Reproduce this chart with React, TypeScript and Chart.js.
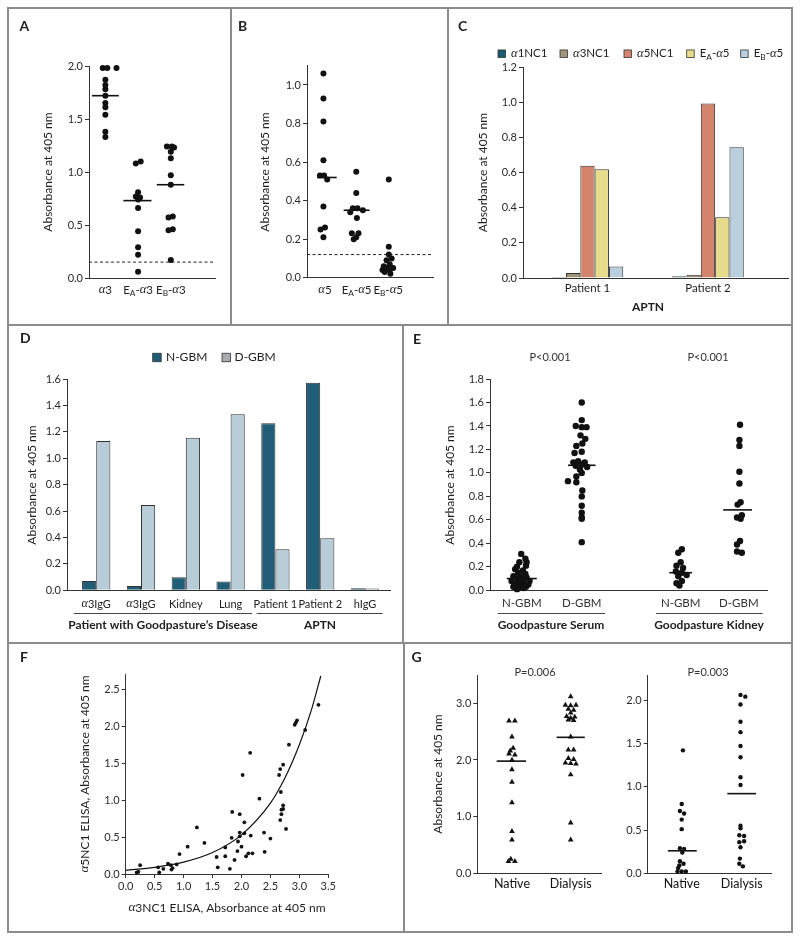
import React, { useEffect, useRef } from 'react';
import { Chart, registerables } from 'chart.js';

Chart.register(...registerables);

const SANS = 'Lato, "Open Sans", "DejaVu Sans", sans-serif';
const SERIF = '"Liberation Serif", "DejaVu Serif", serif';
const INK = '#1e1e1e';
const AXIS = '#333333';
const FRAME = '#8c8c8c';
const DOT = '#111111';

// ---------------- Panel A ----------------
const aLabels = ['α3', 'E_A-α3', 'E_B-α3'];
const aAlpha3 = [1.98, 1.98, 1.98, 1.87, 1.82, 1.78, 1.72, 1.65, 1.61, 1.54, 1.38, 1.33];
const aAlpha3Spread = [-0.08, 0.06, 0.34, 0, 0, 0, 0, 0, 0, 0, 0, 0];
const aEA3 = [1.1, 1.08, 0.81, 0.77, 0.76, 0.74, 0.66, 0.44, 0.29, 0.22, 0.06];
const aEA3Spread = [0.08, -0.07, 0, -0.07, 0.06, 0, 0, 0, 0, 0, 0];
const aEB3 = [1.24, 1.24, 1.23, 1.19, 1.13, 0.97, 0.88, 0.58, 0.57, 0.46, 0.45, 0.17];
const aEB3Spread = [-0.12, 0.03, 0.1, 0, 0, 0, 0, 0.06, -0.07, 0.06, -0.07, 0];
const aMedians = [1.72, 0.73, 0.88];
const aCutoff = 0.15;

// ---------------- Panel B ----------------
const bLabels = ['α5', 'E_A-α5', 'E_B-α5'];
const bAlpha5 = [1.06, 0.93, 0.81, 0.61, 0.53, 0.53, 0.51, 0.37, 0.26, 0.25, 0.21];
const bAlpha5Spread = [-0.05, -0.05, -0.05, -0.05, -0.16, -0.03, 0.07, -0.05, 0, -0.14, -0.05];
const bEA5 = [0.55, 0.44, 0.36, 0.36, 0.35, 0.34, 0.31, 0.23, 0.23, 0.21, 0.2];
const bEA5Spread = [-0.01, -0.01, -0.12, 0.03, 0.2, -0.2, 0.01, -0.15, 0.06, -0.01, -0.09];
const bEB5 = [0.51, 0.16, 0.12, 0.1, 0.09, 0.07, 0.06, 0.05, 0.05, 0.04, 0.04, 0.03, 0.02];
const bEB5Spread = [0.02, 0.02, 0.02, 0.11, -0.05, 0.05, -0.14, 0.16, -0.03, -0.18, 0.05, -0.11, 0.07];
const bMedians = [0.52, 0.35];
const bCutoff = 0.12;

// ---------------- Panel C ----------------
const cGroups = ['Patient 1', 'Patient 2'];
const cSeries = ['α1NC1', 'α3NC1', 'α5NC1', 'E_A-α5', 'E_B-α5'];
const cAlpha1 = [0.006, 0.01];
const cAlpha3 = [0.028, 0.019];
const cAlpha5 = [0.639, 0.992];
const cEA5 = [0.618, 0.346];
const cEB5 = [0.066, 0.743];
const cColors = ['#1d5b70', '#9d9679', '#d4846c', '#e7dc8b', '#b9cfdd'];

// ---------------- Panel D ----------------
const dLabels = ['α3IgG', 'α3IgG', 'Kidney', 'Lung', 'Patient 1', 'Patient 2', 'hIgG'];
const dSeries = ['N-GBM', 'D-GBM'];
const dNGBM = [0.071, 0.033, 0.098, 0.066, 1.264, 1.572, 0.015];
const dDGBM = [1.131, 0.646, 1.156, 1.333, 0.31, 0.394, 0.013];
const dColors = ['#1f5e76', '#b8ccd8'];
const dLegendColors = ['#1f5e76', '#a9abad'];

// ---------------- Panel E ----------------
const eLabels = ['N-GBM', 'D-GBM', 'N-GBM', 'D-GBM'];
const eSerumN = [0.31, 0.27, 0.24, 0.24, 0.21, 0.2, 0.18, 0.17, 0.15, 0.14, 0.12, 0.12, 0.11, 0.1, 0.09, 0.08, 0.08, 0.07, 0.06, 0.05, 0.05, 0.04, 0.04, 0.03, 0.03, 0.02, 0.02, 0.01];
const eSerumNSpread = [-0.01, 0.06, -0.04, 0.08, 0.07, -0.08, -0.11, 0.02, -0.06, 0.06, -0.14, -0.02, 0.08, -0.07, 0.03, -0.17, 0.13, -0.03, -0.11, 0.04, 0.11, -0.08, 0, -0.14, 0.07, -0.04, 0.03, -0.08];
const eSerumD = [1.6, 1.45, 1.4, 1.39, 1.39, 1.32, 1.29, 1.25, 1.23, 1.18, 1.17, 1.1, 1.09, 1.09, 1.07, 1.06, 1.05, 1.03, 1.0, 0.97, 0.93, 0.92, 0.85, 0.8, 0.72, 0.66, 0.62, 0.61, 0.41];
const eSerumDSpread = [0, 0, -0.1, 0, 0.08, -0.02, 0.06, 0.01, -0.09, 0, -0.12, -0.06, -0.14, 0.05, 0, -0.1, 0.09, -0.03, 0, -0.09, -0.23, -0.09, 0.01, 0, 0, 0, 0, 0, 0];
const eKidneyN = [0.35, 0.32, 0.24, 0.21, 0.19, 0.16, 0.15, 0.13, 0.12, 0.08, 0.06, 0.04];
const eKidneyNSpread = [0.02, -0.04, 0, -0.07, 0.04, -0.08, 0.02, 0.1, -0.04, 0.02, -0.07, -0.02];
const eKidneyD = [1.41, 1.28, 1.23, 1.01, 0.91, 0.75, 0.73, 0.64, 0.62, 0.61, 0.42, 0.39, 0.33, 0.32];
const eKidneyDSpread = [0.02, 0.01, 0.01, 0.01, 0.01, 0.03, -0.02, 0.05, -0.03, 0.03, 0.02, -0.03, -0.03, 0.05];
const eMedians = [0.1, 1.065, 0.15, 0.685];
const ePValues = ['P<0.001', 'P<0.001'];
const eGroupLabels = ['Goodpasture Serum', 'Goodpasture Kidney'];

// ---------------- Panel F ----------------
const fX = [0.19, 0.22, 0.25, 0.56, 0.58, 0.65, 0.73, 0.78, 0.79, 0.81, 0.88, 0.93, 1.07, 1.23, 1.36, 1.57, 1.59, 1.72, 1.72, 1.8, 1.84, 1.83, 1.88, 1.93, 1.94, 1.97, 1.97, 1.97, 2.0, 2.02, 2.05, 2.05, 2.08, 2.12, 2.15, 2.16, 2.19, 2.31, 2.39, 2.4, 2.5, 2.65, 2.67, 2.67, 2.68, 2.69, 2.69, 2.72, 2.72, 2.72, 2.77, 2.82, 2.92, 2.94, 2.96, 3.1, 3.33];
const fY = [0.02, 0.03, 0.12, 0.09, 0.02, 0.07, 0.14, 0.12, 0.06, 0.08, 0.13, 0.27, 0.37, 0.63, 0.42, 0.23, 0.09, 0.24, 0.36, 0.07, 0.84, 0.49, 0.19, 0.31, 0.44, 0.81, 0.56, 0.51, 0.37, 1.34, 0.7, 0.55, 0.24, 0.28, 1.64, 0.52, 0.28, 1.02, 0.56, 0.3, 0.48, 1.34, 1.42, 0.73, 1.11, 0.81, 0.87, 1.48, 0.93, 0.88, 0.61, 1.75, 2.02, 2.05, 2.08, 1.95, 2.29];
const fCurveX = [0, 0.5, 1.0, 1.5, 2.0, 2.5, 2.75, 3.0, 3.2, 3.37];
const fCurveY = [0.05, 0.09, 0.16, 0.29, 0.53, 0.96, 1.3, 1.75, 2.2, 2.68];

// ---------------- Panel G ----------------
const gLabels = ['Native', 'Dialysis'];
const gSerumNative = [2.69, 2.69, 2.41, 2.21, 2.16, 2.11, 2.09, 2.0, 1.83, 1.61, 1.25, 0.74, 0.59, 0.25, 0.21, 0.21];
const gSerumNativeSpread = [-0.05, 0.05, 0, 0.02, -0.03, -0.05, 0.05, 0, 0, 0, 0, 0, 0, -0.02, -0.06, 0.05];
const gSerumDialysis = [3.12, 2.97, 2.96, 2.97, 2.9, 2.88, 2.83, 2.77, 2.76, 2.74, 2.71, 2.7, 2.41, 2.18, 2.18, 2.03, 2.01, 1.95, 1.94, 1.93, 1.74, 0.89, 0.59];
const gSerumDialysisSpread = [0, -0.09, 0, 0.09, -0.04, 0.05, 0, -0.07, 0.07, 0, -0.04, 0.05, 0, -0.04, 0.05, -0.04, 0.05, -0.09, 0, 0.09, 0, 0, 0];
const gKidneyNative = [1.42, 0.8, 0.72, 0.69, 0.62, 0.51, 0.29, 0.28, 0.24, 0.14, 0.11, 0.09, 0.06, 0.02, 0.02, 0.02];
const gKidneyNativeSpread = [0.02, 0, -0.03, 0.04, 0, 0, -0.03, 0.04, 0.01, -0.03, 0.03, -0.04, -0.06, -0.07, 0, 0.07];
const gKidneyDialysis = [2.06, 2.04, 1.95, 1.75, 1.63, 1.47, 1.34, 1.11, 1.02, 0.55, 0.52, 0.44, 0.43, 0.37, 0.36, 0.3, 0.17, 0.11, 0.08];
const gKidneyDialysisSpread = [-0.02, 0.06, -0.02, -0.02, -0.02, -0.02, -0.02, -0.02, -0.02, -0.02, -0.02, -0.04, 0.04, 0.04, -0.04, -0.02, -0.03, -0.04, 0.02];
const gSerumMedians = [1.98, 2.4];
const gKidneyMedians = [0.26, 0.92];
const gPValues = ['P=0.006', 'P=0.003'];

// ---------------- helpers ----------------
type Panel = { x: number; y: number; w: number; h: number };
type Area = { l: number; t: number; r: number; b: number };

const TICK_SIZE = 11;
const TITLE_SIZE = 12;
const LETTER_SIZE = 14;

function parseRich(s: string) {
  const out: { t: string; k: string }[] = [];
  for (let i = 0; i < s.length; i++) {
    const c = s[i];
    if (c === '_' && i + 1 < s.length) {
      out.push({ t: s[i + 1], k: 's' });
      i++;
      continue;
    }
    const k = c === 'α' ? 'i' : 'n';
    const last = out[out.length - 1];
    if (last && last.k === 'n' && k === 'n') last.t += c;
    else out.push({ t: c, k });
  }
  return out;
}

function drawRich(ctx: any, s: string, x: number, y: number, o: any) {
  const size = o.size;
  const weight = o.weight || 'normal';
  const fontOf = (k: string) =>
    k === 'i' ? `italic ${size * 1.1}px ${SERIF}` : k === 's' ? `${weight} ${size * 0.72}px ${SANS}` : `${weight} ${size}px ${SANS}`;
  const segs = parseRich(s);
  ctx.save();
  ctx.translate(x, y);
  if (o.rot) ctx.rotate(-Math.PI / 2);
  let total = 0;
  const widths = segs.map((sg) => {
    ctx.font = fontOf(sg.k);
    const w = ctx.measureText(sg.t).width;
    total += w;
    return w;
  });
  let cx = o.align === 'left' ? 0 : -total / 2;
  ctx.textBaseline = 'middle';
  ctx.textAlign = 'left';
  ctx.fillStyle = o.color || INK;
  segs.forEach((sg, i) => {
    ctx.font = fontOf(sg.k);
    ctx.fillText(sg.t, cx, sg.k === 's' ? size * 0.3 : 0);
    cx += widths[i];
  });
  ctx.restore();
}

function decoPlugin(panel: Panel, deco: any) {
  return {
    id: 'deco',
    afterDraw(chart: any) {
      const ctx = chart.ctx;
      ctx.save();
      ctx.translate(-panel.x, -panel.y);
      (deco.rules || []).forEach((r: number[]) => {
        ctx.beginPath();
        ctx.moveTo(r[0], Math.round(r[2]) + 0.5);
        ctx.lineTo(r[1], Math.round(r[2]) + 0.5);
        ctx.lineWidth = 1;
        ctx.strokeStyle = '#444';
        ctx.stroke();
      });
      (deco.swatches || []).forEach((sw: any) => {
        ctx.fillStyle = sw.fill;
        ctx.fillRect(sw.x, sw.y - sw.size / 2, sw.size, sw.size);
        ctx.lineWidth = 0.8;
        ctx.strokeStyle = '#333';
        ctx.strokeRect(sw.x, sw.y - sw.size / 2, sw.size, sw.size);
      });
      (deco.texts || []).forEach((t: any) => drawRich(ctx, t.s, t.x, t.y, t));
      if (deco.cats) {
        const sc = chart.scales.x;
        deco.cats.labels.forEach((lab: string, i: number) =>
          drawRich(ctx, lab, sc.getPixelForValue(deco.cats.pos[i]) + panel.x, deco.cats.y, deco.cats)
        );
      }
      ctx.restore();
    },
  };
}

function frameOf(panel: Panel, area: Area) {
  return {
    yW: area.l - panel.x,
    padTop: area.t - panel.y,
    padRight: panel.x + panel.w - area.r,
    xH: panel.y + panel.h - area.b,
  };
}

function yScale(min: number, max: number, step: number, fr: any) {
  return {
    type: 'linear',
    min,
    max,
    afterFit: (s: any) => {
      s.width = fr.yW;
    },
    border: { display: true, color: AXIS, width: 1 },
    grid: { display: true, drawOnChartArea: false, drawTicks: true, tickLength: 4, color: AXIS, lineWidth: 1 },
    ticks: {
      stepSize: step,
      includeBounds: false,
      padding: 2,
      color: '#2a2a2a',
      font: { family: SANS, size: TICK_SIZE },
      callback: (v: any) => Number(v).toFixed(1),
    },
  };
}

function xHidden(min: number, max: number, fr: any, tickValues?: number[]) {
  return {
    type: 'linear',
    min,
    max,
    offset: false,
    afterFit: (s: any) => {
      s.height = fr.xH;
    },
    afterBuildTicks: (s: any) => {
      if (tickValues) s.ticks = tickValues.map((v) => ({ value: v }));
    },
    border: { display: true, color: AXIS, width: 1 },
    grid: { display: false, offset: false },
    ticks: { display: false },
  };
}

function commonOpts(fr: any, x: any, y: any) {
  return {
    responsive: false,
    maintainAspectRatio: false,
    animation: false,
    devicePixelRatio: 1,
    events: [],
    layout: { padding: { top: fr.padTop, right: fr.padRight, bottom: 0, left: 0 } },
    plugins: { legend: { display: false }, tooltip: { enabled: false }, title: { display: false } },
    scales: { x, y },
  };
}

function dotSets(groups: any[], radius: number, style: string) {
  const ds: any[] = [];
  groups.forEach((g) => {
    ds.push({
      type: 'scatter',
      data: g.values.map((v: number, i: number) => ({ x: g.pos + g.spread[i], y: v })),
      pointRadius: radius,
      pointHoverRadius: radius,
      pointStyle: style,
      backgroundColor: DOT,
      borderColor: DOT,
      borderWidth: 0,
      clip: false,
    });
    if (g.median !== undefined) {
      ds.push({
        type: 'line',
        data: [
          { x: g.pos + g.mShift - g.half, y: g.median },
          { x: g.pos + g.mShift + g.half, y: g.median },
        ],
        borderColor: DOT,
        borderWidth: 1.6,
        pointRadius: 0,
        showLine: true,
        clip: false,
      });
    }
  });
  return ds;
}

function cutoffSet(value: number, xMin: number, xMax: number) {
  return {
    type: 'line',
    data: [
      { x: xMin, y: value },
      { x: xMax, y: value },
    ],
    borderColor: '#222',
    borderWidth: 1,
    borderDash: [3, 2.5],
    pointRadius: 0,
    showLine: true,
  };
}

// ---------------- panels ----------------
const panelA: Panel = { x: 8, y: 8, w: 223, h: 317 };
const areaA: Area = { l: 89, t: 66, r: 215, b: 278 };
function buildA() {
  const fr = frameOf(panelA, areaA);
  const xMin = -0.5;
  const xMax = 3.35;
  const groups = [
    { pos: 0, values: aAlpha3, spread: aAlpha3Spread, median: aMedians[0], mShift: 0, half: 0.41 },
    { pos: 1, values: aEA3, spread: aEA3Spread, median: aMedians[1], mShift: -0.02, half: 0.43 },
    { pos: 2, values: aEB3, spread: aEB3Spread, median: aMedians[2], mShift: -0.01, half: 0.42 },
  ];
  return {
    type: 'scatter',
    data: { datasets: [...dotSets(groups, 3, 'circle'), cutoffSet(aCutoff, xMin, xMax)] },
    options: commonOpts(fr, xHidden(xMin, xMax, fr), yScale(0, 2, 0.5, fr)),
    plugins: [
      decoPlugin(panelA, {
        texts: [
          { s: 'A', x: 19.5, y: 26, size: LETTER_SIZE, weight: 'bold', align: 'left' },
          { s: 'Absorbance at 405 nm', x: 48, y: 172, size: TITLE_SIZE, rot: true },
        ],
        cats: { labels: aLabels, pos: [0, 1, 2], y: 290, size: 11.5 },
      }),
    ],
  };
}

const panelB: Panel = { x: 231, y: 8, w: 217, h: 317 };
const areaB: Area = { l: 307, t: 65.7, r: 433, b: 277.7 };
function buildB() {
  const fr = frameOf(panelB, areaB);
  const xMin = -0.57;
  const xMax = 3.42;
  const groups = [
    { pos: 0, values: bAlpha5, spread: bAlpha5Spread, median: bMedians[0], mShift: 0.06, half: 0.31 },
    { pos: 1, values: bEA5, spread: bEA5Spread, median: bMedians[1], mShift: 0, half: 0.41 },
    { pos: 2, values: bEB5, spread: bEB5Spread },
  ];
  return {
    type: 'scatter',
    data: { datasets: [...dotSets(groups, 3, 'circle'), cutoffSet(bCutoff, xMin, xMax)] },
    options: commonOpts(fr, xHidden(xMin, xMax, fr), yScale(0, 1.1, 0.2, fr)),
    plugins: [
      decoPlugin(panelB, {
        texts: [
          { s: 'B', x: 238, y: 26, size: LETTER_SIZE, weight: 'bold', align: 'left' },
          { s: 'Absorbance at 405 nm', x: 265, y: 172, size: TITLE_SIZE, rot: true },
        ],
        cats: { labels: bLabels, pos: [0, 1, 2], y: 290, size: 11.5 },
      }),
    ],
  };
}

const panelC: Panel = { x: 448, y: 8, w: 344, h: 317 };
const areaC: Area = { l: 523, t: 67, r: 788, b: 278 };
function buildC() {
  const fr = frameOf(panelC, areaC);
  const values = [cAlpha1, cAlpha3, cAlpha5, cEA5, cEB5];
  const swX = [498, 560, 624, 686.7, 740.7];
  const swatches = cSeries.map((_, k) => ({ x: swX[k], y: 53.7, size: 7.5, fill: cColors[k] }));
  const legendTexts = cSeries.map((s, k) => ({ s, x: swX[k] + 13, y: 53.7, size: 11.5, align: 'left' }));
  return {
    type: 'bar',
    data: {
      datasets: cSeries.map((name, k) => ({
        label: name,
        data: values[k].map((v, i) => ({ x: i, y: v })),
        backgroundColor: cColors[k],
        borderColor: '#333',
        borderWidth: 1,
        categoryPercentage: 0.594,
        barPercentage: 1,
      })),
    },
    options: commonOpts(fr, xHidden(-0.535, 1.664, fr, [0, 1]), yScale(0, 1.2, 0.2, fr)),
    plugins: [
      decoPlugin(panelC, {
        swatches,
        texts: [
          { s: 'C', x: 458, y: 26, size: LETTER_SIZE, weight: 'bold', align: 'left' },
          { s: 'Absorbance at 405 nm', x: 483, y: 172.5, size: TITLE_SIZE, rot: true },
          { s: 'APTN', x: 648, y: 307, size: 12, weight: 'bold' },
          ...legendTexts,
        ],
        cats: { labels: cGroups, pos: [0, 1], y: 288.5, size: 11.5 },
      }),
    ],
  };
}

const panelD: Panel = { x: 8, y: 325, w: 395, h: 318 };
const areaD: Area = { l: 67, t: 379, r: 390, b: 590.3 };
function buildD() {
  const fr = frameOf(panelD, areaD);
  const values = [dNGBM, dDGBM];
  const idx = dLabels.map((_, i) => i);
  return {
    type: 'bar',
    data: {
      datasets: dSeries.map((name, k) => ({
        label: name,
        data: values[k].map((v, i) => ({ x: i, y: v })),
        backgroundColor: dColors[k],
        borderColor: '#333',
        borderWidth: 1,
        categoryPercentage: 0.632,
        barPercentage: 1,
      })),
    },
    options: commonOpts(fr, xHidden(-0.652, 6.558, fr, idx), yScale(0, 1.6, 0.2, fr)),
    plugins: [
      decoPlugin(panelD, {
        swatches: [
          { x: 152.7, y: 357.5, size: 8.5, fill: dLegendColors[0] },
          { x: 222, y: 357.5, size: 8.5, fill: dLegendColors[1] },
        ],
        rules: [
          [74, 252, 613],
          [256.7, 382.7, 613],
        ],
        texts: [
          { s: 'D', x: 20, y: 338, size: LETTER_SIZE, weight: 'bold', align: 'left' },
          { s: dSeries[0], x: 166, y: 357.5, size: 12, align: 'left' },
          { s: dSeries[1], x: 234.5, y: 357.5, size: 12, align: 'left' },
          { s: 'Absorbance at 405 nm', x: 32, y: 485, size: TITLE_SIZE, rot: true },
          { s: 'Patient with Goodpasture’s Disease', x: 163, y: 625, size: 12, weight: 'bold' },
          { s: 'APTN', x: 320, y: 625, size: 12, weight: 'bold' },
        ],
        cats: { labels: dLabels, pos: idx, y: 604, size: 11 },
      }),
    ],
  };
}

const panelE: Panel = { x: 403, y: 325, w: 389, h: 318 };
const areaE: Area = { l: 490, t: 379, r: 767, b: 590.3 };
function buildE() {
  const fr = frameOf(panelE, areaE);
  const pos = [0, 1, 2.65, 3.62];
  const groups = [
    { pos: pos[0], values: eSerumN, spread: eSerumNSpread, median: eMedians[0], mShift: 0, half: 0.25 },
    { pos: pos[1], values: eSerumD, spread: eSerumDSpread, median: eMedians[1], mShift: 0, half: 0.23 },
    { pos: pos[2], values: eKidneyN, spread: eKidneyNSpread, median: eMedians[2], mShift: 0, half: 0.19 },
    { pos: pos[3], values: eKidneyD, spread: eKidneyDSpread, median: eMedians[3], mShift: -0.02, half: 0.24 },
  ];
  return {
    type: 'scatter',
    data: { datasets: dotSets(groups, 3.2, 'circle') },
    options: commonOpts(fr, xHidden(-0.53, 4.09, fr), yScale(0, 1.8, 0.2, fr)),
    plugins: [
      decoPlugin(panelE, {
        rules: [
          [497.7, 605, 613],
          [656, 762.7, 613],
        ],
        texts: [
          { s: 'E', x: 413, y: 339, size: LETTER_SIZE, weight: 'bold', align: 'left' },
          { s: ePValues[0], x: 550, y: 357, size: 11, color: '#333' },
          { s: ePValues[1], x: 708, y: 357, size: 11, color: '#333' },
          { s: 'Absorbance at 405 nm', x: 450, y: 485, size: TITLE_SIZE, rot: true },
          { s: eGroupLabels[0], x: 551, y: 625, size: 12, weight: 'bold' },
          { s: eGroupLabels[1], x: 709, y: 625, size: 12, weight: 'bold' },
        ],
        cats: { labels: eLabels, pos, y: 603.5, size: 11.5, color: '#333' },
      }),
    ],
  };
}

const panelF: Panel = { x: 8, y: 643, w: 396, h: 289 };
const areaF: Area = { l: 125.7, t: 674.5, r: 328.3, b: 874 };
function buildF() {
  const fr = frameOf(panelF, areaF);
  const x = {
    type: 'linear',
    min: 0,
    max: 3.5,
    afterFit: (s: any) => {
      s.height = fr.xH;
    },
    border: { display: true, color: AXIS, width: 1 },
    grid: { display: true, drawOnChartArea: false, drawTicks: true, tickLength: 4, color: AXIS },
    ticks: {
      stepSize: 0.5,
      padding: 2,
      color: '#2a2a2a',
      font: { family: SANS, size: TICK_SIZE },
      callback: (v: any) => Number(v).toFixed(1),
    },
  };
  return {
    type: 'scatter',
    data: {
      datasets: [
        {
          type: 'scatter',
          data: fX.map((v, i) => ({ x: v, y: fY[i] })),
          pointRadius: 1.9,
          backgroundColor: DOT,
          borderWidth: 0,
          clip: false,
        },
        {
          type: 'line',
          data: fCurveX.map((v, i) => ({ x: v, y: fCurveY[i] })),
          borderColor: DOT,
          borderWidth: 1.2,
          pointRadius: 0,
          showLine: true,
          cubicInterpolationMode: 'monotone',
        },
      ],
    },
    options: commonOpts(fr, x, yScale(0, 2.7, 0.5, fr)),
    plugins: [
      decoPlugin(panelF, {
        texts: [
          { s: 'F', x: 20, y: 657, size: LETTER_SIZE, weight: 'bold', align: 'left' },
          { s: 'α5NC1 ELISA, Absorbance at 405 nm', x: 85, y: 774, size: TITLE_SIZE, rot: true },
          { s: 'α3NC1 ELISA, Absorbance at 405 nm', x: 227, y: 908, size: TITLE_SIZE },
        ],
      }),
    ],
  };
}

const panelG1: Panel = { x: 404, y: 643, w: 215, h: 289 };
const areaG1: Area = { l: 477.3, t: 675, r: 601.7, b: 873.3 };
function buildG1() {
  const fr = frameOf(panelG1, areaG1);
  const groups = [
    { pos: 0, values: gSerumNative, spread: gSerumNativeSpread, median: gSerumMedians[0], mShift: -0.01, half: 0.25 },
    { pos: 1, values: gSerumDialysis, spread: gSerumDialysisSpread, median: gSerumMedians[1], mShift: 0, half: 0.24 },
  ];
  return {
    type: 'scatter',
    data: { datasets: dotSets(groups, 3.3, 'triangle') },
    options: commonOpts(fr, xHidden(-0.59, 1.528, fr), yScale(0, 3.5, 1, fr)),
    plugins: [
      decoPlugin(panelG1, {
        texts: [
          { s: 'G', x: 411.5, y: 657, size: LETTER_SIZE, weight: 'bold', align: 'left' },
          { s: gPValues[0], x: 535, y: 672, size: 11, color: '#333' },
          { s: 'Absorbance at 405 nm', x: 438, y: 774, size: TITLE_SIZE, rot: true },
        ],
        cats: { labels: gLabels, pos: [0, 1], y: 883.5, size: 12.5, color: '#111' },
      }),
    ],
  };
}

const panelG2: Panel = { x: 612, y: 643, w: 180, h: 289 };
const areaG2: Area = { l: 647.7, t: 675, r: 771.7, b: 873.3 };
function buildG2() {
  const fr = frameOf(panelG2, areaG2);
  const groups = [
    { pos: 0, values: gKidneyNative, spread: gKidneyNativeSpread, median: gKidneyMedians[0], mShift: 0.01, half: 0.24 },
    { pos: 1, values: gKidneyDialysis, spread: gKidneyDialysisSpread, median: gKidneyMedians[1], mShift: 0, half: 0.24 },
  ];
  return {
    type: 'scatter',
    data: { datasets: dotSets(groups, 2.2, 'circle') },
    options: commonOpts(fr, xHidden(-0.567, 1.5, fr), yScale(0, 2.29, 0.5, fr)),
    plugins: [
      decoPlugin(panelG2, {
        texts: [{ s: gPValues[1], x: 708, y: 672, size: 11, color: '#333' }],
        cats: { labels: gLabels, pos: [0, 1], y: 883.5, size: 12.5, color: '#111' },
      }),
    ],
  };
}

function Plot({ panel, build }: { panel: Panel; build: () => any }) {
  const ref = useRef<HTMLCanvasElement | null>(null);
  useEffect(() => {
    const chart = new Chart(ref.current as HTMLCanvasElement, build());
    return () => chart.destroy();
  }, []);
  return (
    <canvas
      ref={ref}
      width={panel.w}
      height={panel.h}
      style={{ position: 'absolute', left: panel.x, top: panel.y, width: panel.w, height: panel.h }}
    />
  );
}

function Rule({ x, y, w, h }: { x: number; y: number; w: number; h: number }) {
  return <div style={{ position: 'absolute', left: x, top: y, width: w, height: h, background: FRAME }} />;
}

export default function App() {
  return (
    <div style={{ position: 'absolute', left: 0, top: 0, width: 800, height: 940, background: '#fff' }}>
      <div
        style={{
          position: 'absolute',
          left: 7,
          top: 7,
          width: 786,
          height: 926,
          border: `2px solid ${FRAME}`,
          boxSizing: 'border-box',
        }}
      />
      <Rule x={7} y={324} w={786} h={2} />
      <Rule x={7} y={642} w={786} h={2} />
      <Rule x={230} y={7} w={2} h={318} />
      <Rule x={447} y={7} w={2} h={318} />
      <Rule x={402} y={325} w={2} h={318} />
      <Rule x={403} y={643} w={2} h={290} />
      <Plot panel={panelA} build={buildA} />
      <Plot panel={panelB} build={buildB} />
      <Plot panel={panelC} build={buildC} />
      <Plot panel={panelD} build={buildD} />
      <Plot panel={panelE} build={buildE} />
      <Plot panel={panelF} build={buildF} />
      <Plot panel={panelG1} build={buildG1} />
      <Plot panel={panelG2} build={buildG2} />
    </div>
  );
}
